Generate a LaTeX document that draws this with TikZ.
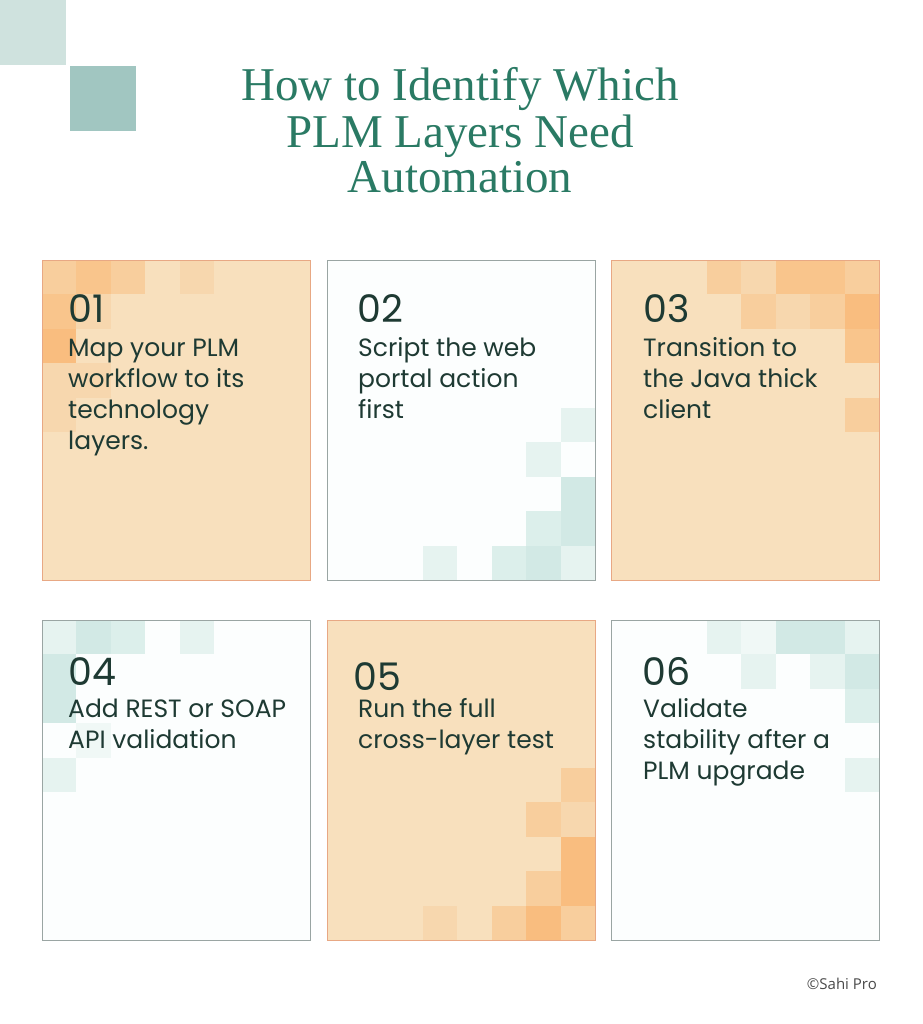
\documentclass[tikz,border=0pt]{standalone}
\usepackage{fontspec}
\newfontfamily\titlef{Liberation Serif}
\newfontfamily\bodyf{Poppins}
\newfontfamily\copyf{Open Sans}
\definecolor{titlegreen}{HTML}{2A7A64}
\definecolor{inkgreen}{HTML}{1E3A33}
\definecolor{sqlight}{HTML}{CFE2DE}
\definecolor{sqdark}{HTML}{A1C6C1}
\definecolor{peachbg}{HTML}{F8E0BD}
\definecolor{peachline}{HTML}{E8A884}
\definecolor{pa}{HTML}{F7D7AE}
\definecolor{pb}{HTML}{F8CE9D}
\definecolor{pc}{HTML}{F9C58C}
\definecolor{pd}{HTML}{F9BD7F}
\definecolor{tealbg}{HTML}{FCFEFE}
\definecolor{tealline}{HTML}{9AA5A3}
\definecolor{t0}{HTML}{F0F8F6}
\definecolor{ta}{HTML}{E6F3F0}
\definecolor{tb}{HTML}{DCEFEB}
\definecolor{tc}{HTML}{D2E9E5}
\definecolor{copygray}{HTML}{4A4A4A}
\newcommand\stacklines[1]{\begin{tabular}[t]{@{}l@{}}#1\end{tabular}}
\newcommand\stackcenter[1]{\begin{tabular}[t]{@{}c@{}}#1\end{tabular}}
\def\ts{34.4}
% top-left grid: x0,y0,list
\newcommand\tilesTL[3]{\foreach \i/\j/\c in {#3}{\fill[\c] ({#1+\i*\ts},{#2+\j*\ts}) rectangle ++(\ts,\ts);}}
% top-right grid: x1,y0,list
\newcommand\tilesTR[3]{\foreach \i/\j/\c in {#3}{\fill[\c] ({#1-(\i+1)*\ts},{#2+\j*\ts}) rectangle ++(\ts,\ts);}}
% bottom-right grid: x1,y1,list
\newcommand\tilesBR[3]{\foreach \i/\j/\c in {#3}{\fill[\c] ({#1-(\i+1)*\ts},{#2-(\j+1)*\ts}) rectangle ++(\ts,\ts);}}
\begin{document}
\begin{tikzpicture}[x=1pt,y=-1pt,
  cardbox/.style={minimum width=268pt,minimum height=320pt,inner sep=0pt,anchor=north west},
  peachcard/.style={cardbox,fill=peachbg},
  tealcard/.style={cardbox,fill=tealbg},
  numtext/.style={font=\bodyf\fontsize{38}{40}\selectfont,text=inkgreen,inner sep=0pt,anchor=base west},
  bodytext/.style={font=\bodyf\fontsize{25}{31}\selectfont,text=inkgreen,inner sep=0pt,anchor=base west},
  titletext/.style={font=\titlef\fontsize{47}{45.5}\selectfont,text=titlegreen,inner sep=0pt,anchor=base},
  peachedge/.style={draw=peachline,line width=1pt},
  tealedge/.style={draw=tealline,line width=1pt}]
\useasboundingbox (0,0) rectangle (922,1024);
\fill[white] (0,0) rectangle (922,1024);
% decorative squares
\fill[sqlight] (0,0) rectangle (66,65);
\fill[sqdark] (70,66) rectangle (136,131);
% title
\node[titletext] (title) at (460,101) {\stackcenter{How to Identify Which\\PLM Layers Need\\Automation}};
% cards
\node[peachcard] (c1) at (42,260) {};
\node[tealcard]  (c2) at (327,260) {};
\node[peachcard] (c3) at (611,260) {};
\node[tealcard]  (c4) at (42,620) {};
\node[peachcard] (c5) at (327,620) {};
\node[tealcard]  (c6) at (611,620) {};
% tiles
\tilesTL{42}{260}{0/0/pb,1/0/pc,2/0/pb,4/0/pa,0/1/pc,1/1/pa,0/2/pd,0/3/pa,1/3/pa,0/4/pa}
\tilesBR{595}{580}{4/0/ta,2/0/tb,1/0/tc,0/0/ta,1/1/tb,0/1/tc,0/2/tc,1/3/ta,0/4/ta}
\tilesTR{879}{260}{4/0/pb,3/0/pa,2/0/pc,1/0/pc,0/0/pb,3/1/pb,2/1/pa,1/1/pb,0/1/pd,0/2/pc,0/4/pb}
\tilesTL{42}{620}{0/0/ta,1/0/tc,2/0/tb,4/0/ta,0/1/tc,0/2/tc,1/3/t0,0/4/ta}
\tilesBR{595}{940}{4/0/pa,2/0/pb,1/0/pd,0/0/pb,1/1/pb,0/1/pd,0/2/pd,1/3/pb,0/3/pa,0/4/pb}
\tilesTR{879}{620}{4/0/ta,3/0/t0,2/0/tc,1/0/tc,0/0/ta,3/1/ta,1/1/ta,0/1/tc,0/2/tb,0/4/ta}
% borders
\draw[peachedge] (c1.north west) rectangle (c1.south east);
\draw[tealedge]  (c2.north west) rectangle (c2.south east);
\draw[peachedge] (c3.north west) rectangle (c3.south east);
\draw[tealedge]  (c4.north west) rectangle (c4.south east);
\draw[peachedge] (c5.north west) rectangle (c5.south east);
\draw[tealedge]  (c6.north west) rectangle (c6.south east);
% numbers
\node[numtext] (n1) at (68,322) {01};
\node[numtext] (n2) at (357,322) {02};
\node[numtext] (n3) at (643,322) {03};
\node[numtext] (n4) at (68,685) {04};
\node[numtext] (n5) at (353,690) {05};
\node[numtext] (n6) at (642,685) {06};
% texts
\node[bodytext] (b1) at (68,356) {\stacklines{Map your PLM\\workflow to its\\technology\\layers.}};
\node[bodytext] (b2) at (358,356) {\stacklines{Script the web\\portal action\\first}};
\node[bodytext] (b3) at (643,356) {\stacklines{Transition to\\the Java thick\\client}};
\node[bodytext] (b4) at (68,717) {\stacklines{Add REST or SOAP\\API validation}};
\node[bodytext] (b5) at (358,717) {\stacklines{Run the full\\cross-layer test}};
\node[bodytext] (b6) at (643,717) {\stacklines{Validate\\stability after a\\PLM upgrade}};
% copyright
\node[font=\copyf\fontsize{15}{18}\selectfont,text=copygray,inner sep=0pt,anchor=base east] (copy) at (877,989) {©Sahi Pro};
\end{tikzpicture}
\end{document}
